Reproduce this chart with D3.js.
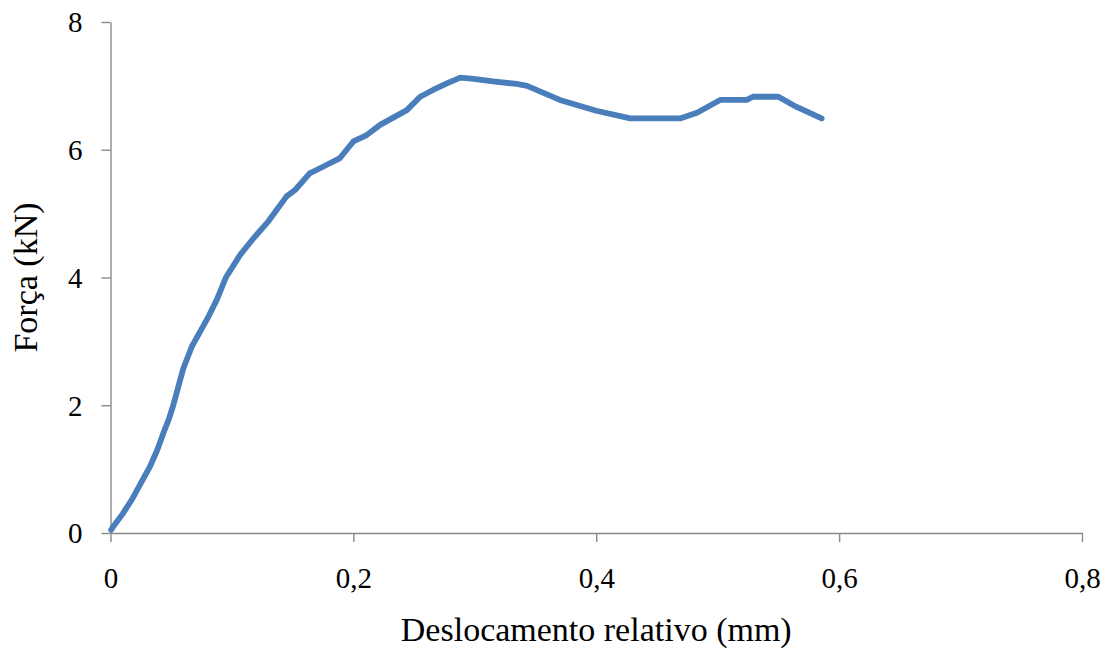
<!DOCTYPE html>
<html>
<head>
<meta charset="utf-8">
<script src="https://cdn.jsdelivr.net/npm/d3@7"></script>
<style>
  html, body { margin: 0; padding: 0; background: #fff; }
  svg { display: block; }
</style>
</head>
<body>
<svg id="chart" width="1111" height="653"></svg>
<script>
// Load–displacement curve: relative displacement (mm) vs force (kN)
const displacement = [0.0005, 0.0023, 0.0100, 0.0175, 0.0250, 0.0325, 0.0385, 0.0435, 0.0480, 0.0517,
  0.0560, 0.0600, 0.0670, 0.0737, 0.0810, 0.0875, 0.0950, 0.1066, 0.1176, 0.1300,
  0.1450, 0.1520, 0.1640, 0.1725, 0.1890, 0.2000, 0.2110, 0.2220, 0.2440, 0.2550,
  0.2660, 0.2770, 0.2880, 0.2990, 0.3150, 0.3345, 0.3430, 0.3700, 0.4000, 0.4280,
  0.4690, 0.4830, 0.5020, 0.5240, 0.5290, 0.5500, 0.5650, 0.5856];
const force = [0.05, 0.10, 0.30, 0.52, 0.78, 1.04, 1.30, 1.56, 1.78, 2.00,
  2.30, 2.58, 2.92, 3.15, 3.40, 3.65, 4.00, 4.35, 4.61, 4.88,
  5.27, 5.37, 5.63, 5.71, 5.87, 6.13, 6.23, 6.39, 6.62, 6.83,
  6.94, 7.04, 7.13, 7.11, 7.07, 7.03, 7.00, 6.78, 6.61, 6.49,
  6.49, 6.58, 6.78, 6.78, 6.83, 6.83, 6.67, 6.49];

const xTicks = [0, 0.2, 0.4, 0.6, 0.8];
const yTicks = [0, 2, 4, 6, 8];
const xTitle = "Deslocamento relativo (mm)";
const yTitle = "Força (kN)";

const svg = d3.select("#chart");
const fontFamily = "'Liberation Serif', 'Times New Roman', serif";
const axisColor = "#898989";

const x = d3.scaleLinear().domain([0, 0.8]).range([110.5, 1082]);
const y = d3.scaleLinear().domain([0, 8]).range([533, 22]);

// decimal comma for the displacement ticks, plain integers for force
const ptLocale = d3.formatLocale({ decimal: ",", thousands: ".", grouping: [3], currency: ["", ""] });
const fmtX = v => v === 0 ? "0" : ptLocale.format(".1f")(v);
const fmtY = d3.format("d");

// x axis
const gx = svg.append("g")
  .attr("transform", `translate(0,${y(0)})`)
  .call(d3.axisBottom(x).tickValues(xTicks).tickFormat(fmtX).tickSize(9).tickSizeOuter(0));
gx.select(".domain").attr("stroke", axisColor).attr("stroke-width", 1.4);
gx.selectAll(".tick line").attr("stroke", axisColor).attr("stroke-width", 1.4);
gx.selectAll(".tick text")
  .attr("y", 55).attr("dy", 0)
  .attr("fill", "#000")
  .style("font-family", fontFamily).style("font-size", "29px");

// y axis
const gy = svg.append("g")
  .attr("transform", `translate(${x(0)},0)`)
  .call(d3.axisLeft(y).tickValues(yTicks).tickFormat(fmtY).tickSize(9).tickSizeOuter(0));
gy.select(".domain").attr("stroke", axisColor).attr("stroke-width", 1.4);
gy.selectAll(".tick line").attr("stroke", axisColor).attr("stroke-width", 1.4);
gy.selectAll(".tick text")
  .attr("x", -28).attr("dy", "0.34em")
  .attr("fill", "#000")
  .style("font-family", fontFamily).style("font-size", "29px");

// curve
const pts = displacement.map((d, i) => [d, force[i]]);
svg.append("path")
  .datum(pts)
  .attr("fill", "none")
  .attr("stroke", "#4a7ebb")
  .attr("stroke-width", 5.8)
  .attr("stroke-linejoin", "round")
  .attr("stroke-linecap", "round")
  .attr("d", d3.line().x(d => x(d[0])).y(d => y(d[1])));

// axis titles
svg.append("text")
  .attr("x", (x.range()[0] + x.range()[1]) / 2)
  .attr("y", 641)
  .attr("text-anchor", "middle")
  .style("font-family", fontFamily).style("font-size", "34px")
  .text(xTitle);

svg.append("text")
  .attr("transform", `translate(37,${(y.range()[0] + y.range()[1]) / 2}) rotate(-90)`)
  .attr("text-anchor", "middle")
  .style("font-family", fontFamily).style("font-size", "34px")
  .text(yTitle);
</script>
</body>
</html>
